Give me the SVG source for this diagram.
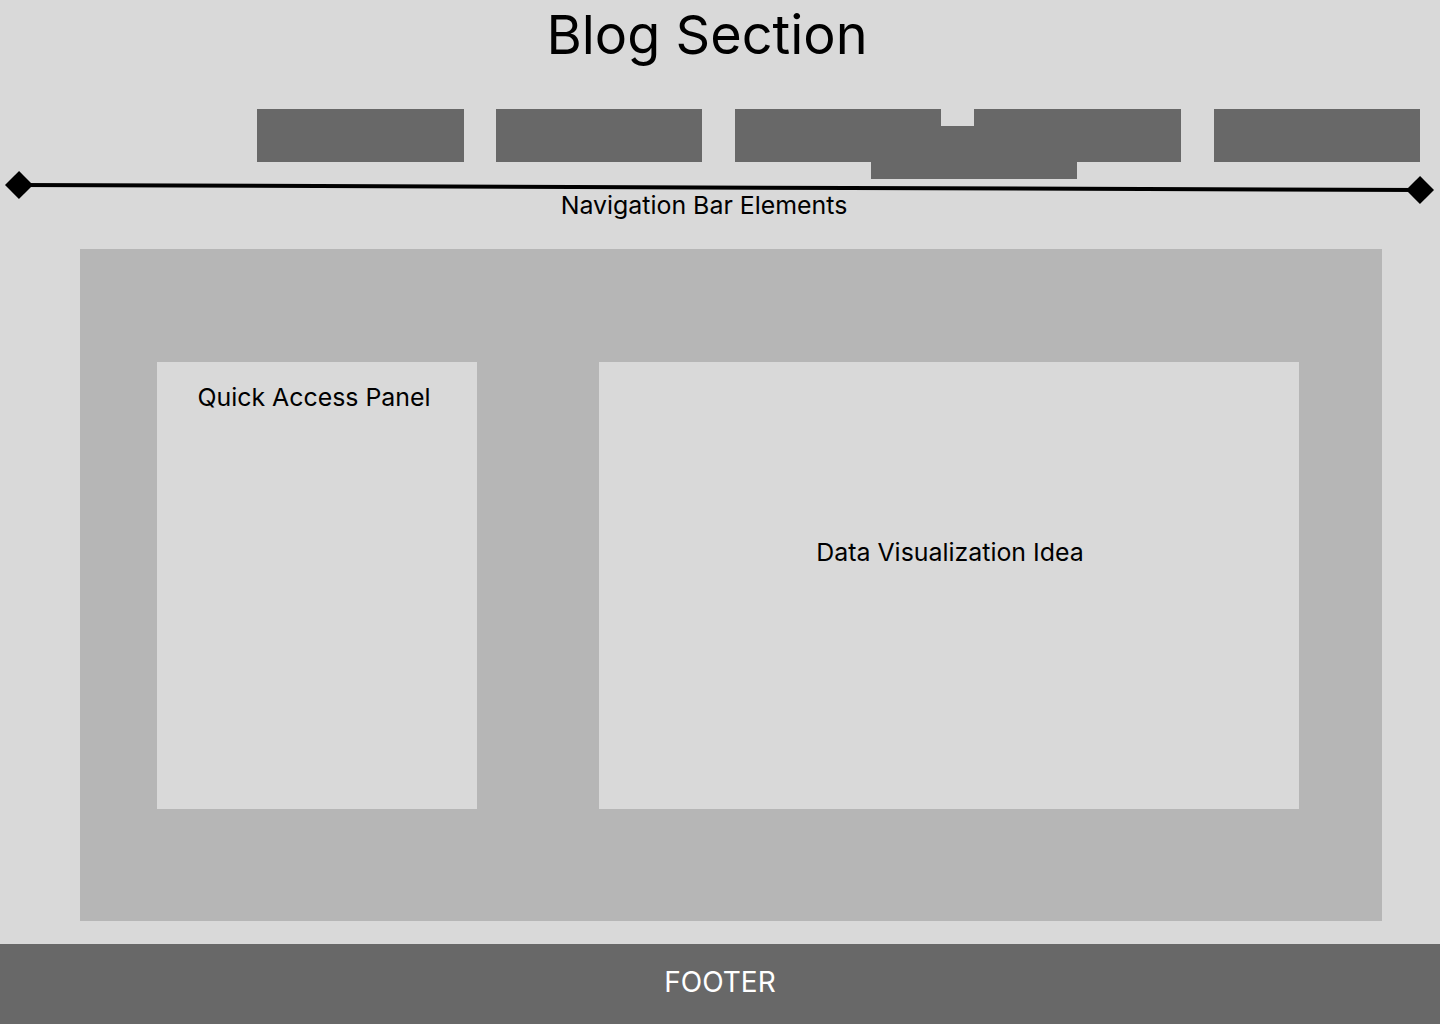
<svg xmlns="http://www.w3.org/2000/svg" width="1440" height="1024" viewBox="0 0 1440 1024">
<defs>
<style>
.t{font-family:Inter,"Liberation Sans",sans-serif;fill:#000;text-anchor:middle}
.nav{fill:#686868}
.panel{fill:#d9d9d9}
</style>
<marker id="dia" markerUnits="userSpaceOnUse" markerWidth="30" markerHeight="30" refX="15" refY="15" orient="auto">
<path d="M1 15 L15 1 L29 15 L15 29 Z" fill="#000"/>
</marker>
</defs>
<rect x="0" y="0" width="1440" height="1024" fill="#d9d9d9"/>
<g id="title"><text class="t" x="707" y="54" font-size="54">Blog Section</text></g>
<g id="nav-items">
<rect class="nav" x="257" y="109" width="207" height="53"/>
<rect class="nav" x="496" y="109" width="206" height="53"/>
<rect class="nav" x="735" y="109" width="206" height="53"/>
<rect class="nav" x="974" y="109" width="207" height="53"/>
<rect class="nav" x="1214" y="109" width="206" height="53"/>
<rect class="nav" x="871" y="126" width="206" height="53"/>
</g>
<g id="connectors">
<line x1="19" y1="185" x2="1420" y2="190" stroke="#000" stroke-width="4" marker-start="url(#dia)" marker-end="url(#dia)"/>
</g>
<g id="nav-label"><text class="t" x="704" y="214" font-size="24.9">Navigation Bar Elements</text></g>
<g id="main">
<rect x="80" y="249" width="1302" height="672" fill="#b6b6b6"/>
</g>
<g id="quick-access">
<rect class="panel" x="157" y="362" width="320" height="447"/>
<text class="t" x="314" y="406" font-size="24.9">Quick Access Panel</text>
</g>
<g id="data-viz">
<rect class="panel" x="599" y="362" width="700" height="447"/>
<text class="t" x="950" y="561" font-size="24.9">Data Visualization Idea</text>
</g>
<g id="footer">
<rect x="0" y="944" width="1440" height="80" fill="#686868"/>
<text class="t" x="720" y="992" font-size="28" style="fill:#fff">FOOTER</text>
</g>
</svg>
